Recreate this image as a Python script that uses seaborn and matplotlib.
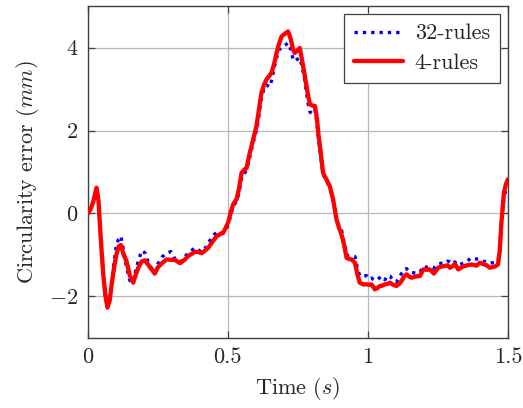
import numpy as np
import pandas as pd
import matplotlib
matplotlib.use("Agg")
import matplotlib.pyplot as plt
import seaborn as sns

time = [0.000, 0.010, 0.020, 0.031, 0.038, 0.043, 0.050, 0.055, 0.062, 0.070,
        0.078, 0.085, 0.095, 0.102, 0.110, 0.118, 0.128, 0.138, 0.150, 0.162,
        0.170, 0.180, 0.192, 0.204, 0.220, 0.239, 0.250, 0.265, 0.281, 0.296,
        0.311, 0.329, 0.345, 0.360, 0.382, 0.395, 0.406, 0.418, 0.430, 0.445,
        0.460, 0.472, 0.483, 0.492, 0.501, 0.510, 0.519, 0.531, 0.540, 0.549,
        0.558, 0.567, 0.578, 0.590, 0.602, 0.611, 0.620, 0.629, 0.638, 0.648,
        0.656, 0.665, 0.674, 0.683, 0.692, 0.703, 0.715, 0.725, 0.733, 0.739,
        0.748, 0.757, 0.765, 0.775, 0.785, 0.793, 0.802, 0.811, 0.818, 0.823,
        0.832, 0.840, 0.852, 0.864, 0.876, 0.888, 0.897, 0.906, 0.915, 0.924,
        0.933, 0.942, 0.954, 0.962, 0.971, 0.983, 0.995, 1.004, 1.013, 1.025,
        1.034, 1.043, 1.052, 1.061, 1.070, 1.079, 1.090, 1.102, 1.112, 1.120,
        1.130, 1.138, 1.147, 1.156, 1.170, 1.186, 1.198, 1.210, 1.221, 1.236,
        1.251, 1.263, 1.275, 1.285, 1.293, 1.303, 1.311, 1.323, 1.340, 1.355,
        1.370, 1.388, 1.400, 1.412, 1.424, 1.436, 1.454, 1.465, 1.471, 1.477,
        1.486, 1.493, 1.500]

rules4 = [0.00, 0.10, 0.30, 0.62, 0.30, -0.27, -1.00, -1.47, -1.95, -2.27,
          -2.10, -1.71, -1.25, -0.99, -0.80, -0.76, -1.00, -1.15, -1.50, -1.67,
          -1.50, -1.31, -1.16, -1.13, -1.28, -1.45, -1.30, -1.20, -1.11, -1.12,
          -1.12, -1.20, -1.12, -1.02, -0.93, -0.93, -0.96, -0.90, -0.83, -0.68,
          -0.55, -0.50, -0.47, -0.35, -0.22, 0.02, 0.22, 0.34, 0.60, 0.98,
          1.05, 1.10, 1.45, 1.78, 2.10, 2.50, 2.91, 3.10, 3.23, 3.32,
          3.39, 3.60, 3.87, 4.10, 4.27, 4.33, 4.39, 4.20, 3.95, 3.87,
          3.93, 3.99, 3.70, 3.31, 2.90, 2.63, 2.60, 2.59, 2.30, 1.94,
          1.45, 0.98, 0.82, 0.66, 0.34, -0.14, -0.35, -0.51, -0.75, -1.07,
          -1.10, -1.11, -1.19, -1.45, -1.67, -1.71, -1.71, -1.72, -1.71, -1.83,
          -1.80, -1.75, -1.74, -1.71, -1.70, -1.67, -1.72, -1.75, -1.70, -1.63,
          -1.52, -1.47, -1.52, -1.55, -1.52, -1.51, -1.35, -1.36, -1.35, -1.45,
          -1.31, -1.28, -1.27, -1.25, -1.31, -1.27, -1.22, -1.35, -1.28, -1.25,
          -1.23, -1.26, -1.19, -1.22, -1.25, -1.31, -1.28, -1.23, -0.90, -0.22,
          0.50, 0.70, 0.82]

rules32 = [0.00, 0.10, 0.30, 0.60, 0.30, -0.27, -1.00, -1.45, -1.90, -2.22,
           -2.05, -1.65, -1.10, -0.75, -0.62, -0.55, -0.90, -1.30, -1.62, -1.68,
           -1.40, -1.15, -0.90, -0.95, -1.25, -1.43, -1.22, -1.05, -0.96, -0.92,
           -1.10, -1.18, -1.05, -0.95, -0.83, -0.88, -0.93, -0.85, -0.72, -0.55,
           -0.45, -0.48, -0.47, -0.40, -0.28, -0.05, 0.18, 0.28, 0.50, 0.88,
           0.95, 1.05, 1.35, 1.70, 2.00, 2.35, 2.80, 3.00, 3.10, 3.05,
           3.20, 3.50, 3.75, 3.95, 4.00, 4.05, 4.11, 3.95, 3.72, 3.67,
           3.72, 3.75, 3.55, 3.20, 2.70, 2.45, 2.40, 2.50, 2.20, 1.85,
           1.35, 0.95, 0.80, 0.62, 0.30, -0.12, -0.30, -0.40, -0.70, -1.00,
           -1.02, -1.02, -1.04, -1.30, -1.50, -1.51, -1.50, -1.58, -1.56, -1.62,
           -1.59, -1.55, -1.52, -1.60, -1.50, -1.51, -1.62, -1.65, -1.55, -1.45,
           -1.35, -1.33, -1.40, -1.42, -1.44, -1.42, -1.27, -1.30, -1.28, -1.32,
           -1.22, -1.20, -1.20, -1.15, -1.17, -1.22, -1.17, -1.25, -1.20, -1.15,
           -1.07, -1.10, -1.10, -1.15, -1.17, -1.20, -1.18, -1.15, -0.95, -0.30,
           0.40, 0.55, 0.65]

series_names = ["32-rules", "4-rules"]
x_ticks = [0, 0.5, 1, 1.5]
x_tick_labels = ["0", "0.5", "1", "1.5"]
y_ticks = [-2, 0, 2, 4]

sns.set_theme(style="ticks")
plt.rcParams["font.family"] = ["cmr10", "DejaVu Serif"]
plt.rcParams["mathtext.fontset"] = "cm"
plt.rcParams["axes.formatter.use_mathtext"] = True

df32 = pd.DataFrame({"time": time, "err": rules32})
df4 = pd.DataFrame({"time": time, "err": rules4})

fig = plt.figure(figsize=(5.23, 4.08), dpi=100)
ax = fig.add_axes([0.168, 0.172, 0.803, 0.813])

sns.lineplot(data=df32, x="time", y="err", ax=ax, color="#0000ff", lw=2.4,
             linestyle=(0, (1, 1.5)), sort=False, estimator=None,
             label=series_names[0], zorder=3)
sns.lineplot(data=df4, x="time", y="err", ax=ax, color="#ff0000", lw=3.1,
             sort=False, estimator=None, label=series_names[1], zorder=4)

ax.set_xlim(0, 1.5)
ax.set_ylim(-3, 5)
ax.set_xticks(x_ticks)
ax.set_xticklabels(x_tick_labels)
ax.set_yticks(y_ticks)
ax.grid(True, color="#b8b8b8", lw=0.9)
ax.set_axisbelow(True)
ax.tick_params(direction="in", length=5, width=0.9, color="#404040",
               top=True, right=True, labelsize=16, pad=7)
for s in ax.spines.values():
    s.set_color("#404040")
    s.set_linewidth(1.0)

ax.set_xlabel("Time ($s$)", fontsize=16, labelpad=6)
ax.set_ylabel("Circularity error ($mm$)", fontsize=16, labelpad=6)

leg = ax.legend(loc="upper right", fontsize=16, frameon=True, fancybox=False,
                edgecolor="#404040", framealpha=1, borderpad=0.45,
                handlelength=2.2, labelspacing=0.45, borderaxespad=0.35,
                handletextpad=0.55)
leg.get_frame().set_linewidth(0.9)

fig.savefig("out.png", dpi=100)
